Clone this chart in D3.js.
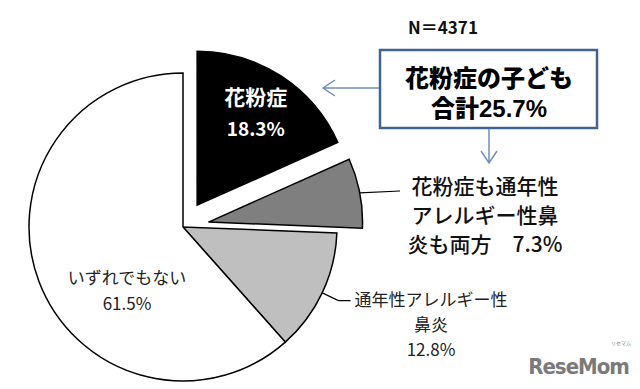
<!DOCTYPE html>
<html lang="ja">
  <head>
    <meta charset="utf-8">
    <title>花粉症の子ども</title>
    <script type="text/javascript" src="https://d3js.org/d3.v7.min.js"></script>
    <style>
    body {
      margin:0;
      background-color:#ffffff;
    }
    text {
      font-family:"Noto Sans CJK JP", sans-serif;
    }
    </style>
  </head>
  <body>
    <div id="chart"></div>
    <script type="text/javascript">
    // データ
    const categories = ["花粉症", "花粉症も通年性アレルギー性鼻炎も両方", "通年性アレルギー性鼻炎", "いずれでもない"];
    const values = [18.3, 7.3, 12.8, 61.5];
    const fills = ["#000000", "#7f7f7f", "#bfbfbf", "#ffffff"];
    const exploded = [true, true, false, false];
    const labelLines = [
      ["花粉症", "18.3%"],
      ["花粉症も通年性", "アレルギー性鼻", "炎も両方　7.3%"],
      ["通年性アレルギー性", "鼻炎", "12.8%"],
      ["いずれでもない", "61.5%"]
    ];
    const sampleText = "N＝4371";
    const boxLines = ["花粉症の子ども", "合計25.7%"];

    const width = 640, height = 389;
    const cx = 183, cy = 227, radius = 154, explode = 26;

    const svg = d3.select("#chart").append("svg").attr("width", width).attr("height", height);

    const pie = d3.pie().sort(null).value(d => d)(values);
    const arc = d3.arc().innerRadius(0).outerRadius(radius);
    const mid = d => (d.startAngle + d.endAngle) / 2;
    const offset = (d, i) => exploded[i] ? [Math.sin(mid(d)) * explode, -Math.cos(mid(d)) * explode] : [0, 0];

    const g = svg.append("g").attr("transform", `translate(${cx},${cy})`);
    // 扇形
    g.selectAll("path").data(pie).join("path")
      .attr("transform", (d, i) => `translate(${offset(d, i)})`)
      .attr("d", arc)
      .attr("fill", (d, i) => fills[i])
      .attr("stroke", "#000000")
      .attr("stroke-width", 1.5)
      .attr("stroke-linejoin", "miter");

    // 黒い扇形の中のラベル
    const p0 = pie[0], o0 = offset(p0, 0);
    const c0 = d3.arc().innerRadius(radius * 0.7).outerRadius(radius * 0.7).centroid(p0);
    const t0 = g.append("text").attr("text-anchor", "middle").attr("fill", "#ffffff").attr("font-weight", "bold");
    t0.append("tspan").attr("x", c0[0] + o0[0]).attr("y", c0[1] + o0[1] - 10)
      .attr("font-size", "21px").text(labelLines[0][0]);
    t0.append("tspan").attr("x", c0[0] + o0[0]).attr("y", c0[1] + o0[1] + 21)
      .attr("font-size", "19px").text(labelLines[0][1]);

    // 両方 のラベルと引き出し線
    const p1 = pie[1], o1 = offset(p1, 1);
    const e1 = [Math.sin(mid(p1)) * radius + o1[0], -Math.cos(mid(p1)) * radius + o1[1]];
    g.append("path").attr("fill", "none").attr("stroke", "#000000").attr("stroke-width", 1.2)
      .attr("d", d3.line()([e1, [400 - cx, 191 - cy]]));
    labelLines[1].forEach((t, k) => {
      g.append("text").attr("x", 485 - cx).attr("y", 194 - cy + k * 29)
        .attr("text-anchor", "middle").attr("fill", "#111111")
        .attr("font-size", "21px").attr("font-weight", "500").text(t);
    });

    // 通年性 のラベルと引き出し線
    const p2 = pie[2];
    const e2 = [Math.sin(mid(p2)) * radius, -Math.cos(mid(p2)) * radius];
    const b2 = [Math.sin(mid(p2)) * (radius + 18), -Math.cos(mid(p2)) * (radius + 18)];
    g.append("path").attr("fill", "none").attr("stroke", "#000000").attr("stroke-width", 1.2)
      .attr("d", d3.line()([e2, b2, [b2[0] + 12, b2[1]]]));
    labelLines[2].forEach((t, k) => {
      g.append("text").attr("x", 431 - cx).attr("y", 306 - cy + k * 25)
        .attr("text-anchor", "middle").attr("fill", "#222222")
        .attr("font-size", "17px").text(t);
    });

    // いずれでもない
    labelLines[3].forEach((t, k) => {
      g.append("text").attr("x", 127 - cx).attr("y", 284 - cy + k * 26)
        .attr("text-anchor", "middle").attr("fill", "#222222")
        .attr("font-size", "17px").text(t);
    });

    // N=
    svg.append("text").attr("x", 443).attr("y", 34).attr("text-anchor", "middle")
      .attr("font-size", "17px").attr("font-weight", "bold").attr("fill", "#111111").text(sampleText);

    // 合計の枠
    svg.append("rect").attr("x", 380).attr("y", 50).attr("width", 217).attr("height", 78)
      .attr("fill", "#ffffff").attr("stroke", "#41638f").attr("stroke-width", 2.5);
    boxLines.forEach((t, k) => {
      svg.append("text").attr("x", 489).attr("y", 87 + k * 30).attr("text-anchor", "middle")
        .style("font-family", "'Liberation Sans', 'Noto Sans CJK JP', sans-serif")
        .attr("font-size", "24px").attr("font-weight", "900").attr("fill", "#000000").text(t);
    });

    // 矢印
    const arrowColor = "#6f8fbf";
    svg.append("path").attr("fill", "none").attr("stroke", arrowColor).attr("stroke-width", 1.5)
      .attr("d", "M379,88 L323,88 M335,80 L323,88 L335,96");
    svg.append("path").attr("fill", "none").attr("stroke", arrowColor).attr("stroke-width", 1.5)
      .attr("d", "M489,129 L489,163 M481,151 L489,163 L497,151");

    // ロゴ
    svg.append("text").attr("x", 629).attr("y", 374).attr("text-anchor", "end")
      .style("font-family", "'DejaVu Sans Condensed', sans-serif")
      .attr("font-size", "22px").attr("font-weight", "bold").attr("fill", "#7a7a7a")
      .attr("letter-spacing", "-1").text("ReseMom");
    svg.append("text").attr("x", 621).attr("y", 345).attr("text-anchor", "middle")
      .attr("font-size", "5px").attr("fill", "#7a7a7a").text("リセマム");
    </script>
  </body>
</html>
